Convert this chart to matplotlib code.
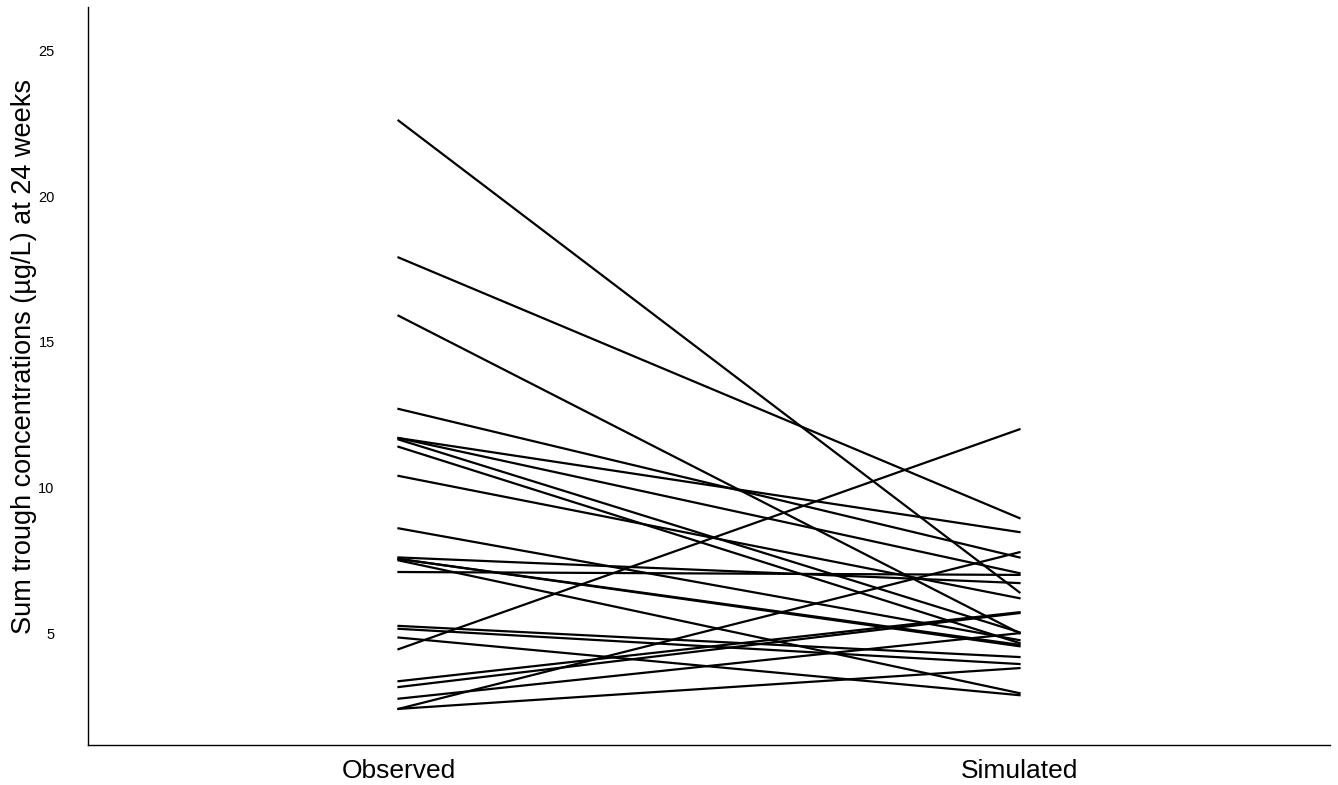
import matplotlib.pyplot as plt

plt.rcParams['font.family'] = ['Liberation Sans', 'DejaVu Sans']

# paired values (observed -> simulated)
observed = [22.6, 17.9, 15.9, 12.7, 11.7, 11.7, 11.65, 11.4, 10.4, 8.6,
            7.6, 7.55, 7.5, 7.55, 7.1, 5.25, 5.15, 4.85, 4.45, 3.35,
            3.15, 2.75, 2.4, 2.4]
simulated = [6.4, 8.95, 5.0, 7.6, 8.47, 7.06, 5.03, 4.66, 6.2, 4.76,
             6.72, 4.55, 2.94, 4.6, 7.0, 4.18, 3.94, 2.87, 12.0, 5.72,
             5.69, 5.0, 7.78, 3.8]
groups = ['Observed', 'Simulated']
yticks = [5, 10, 15, 20, 25]

fig = plt.figure(figsize=(13.38, 7.85), dpi=100)
ax = fig.add_axes([88 / 1338, 40 / 785, 1242 / 1338, 738 / 785])

for o, s in zip(observed, simulated):
    ax.plot([1, 2], [o, s], color='black', linewidth=1.6)

ax.set_xlim(0.5, 2.5)
ax.set_ylim(1.16, 26.5)
ax.set_xticks([1, 2])
ax.set_xticklabels(groups, fontsize=19)
ax.set_yticks(yticks)
ax.tick_params(axis='y', length=0, pad=24, labelsize=10.5)
ax.tick_params(axis='x', length=0, pad=10)

# y label placed by hand so it is not clipped
fig.text(24 / 1338, 1 - 356 / 785, 'Sum trough concentrations (\u00b5g/L) at 24 weeks',
         rotation=90, fontsize=19.5, ha='center', va='center')

for side in ['top', 'right']:
    ax.spines[side].set_visible(False)
for side in ['left', 'bottom']:
    ax.spines[side].set_linewidth(1.0)

fig.savefig('out.png', dpi=100)
